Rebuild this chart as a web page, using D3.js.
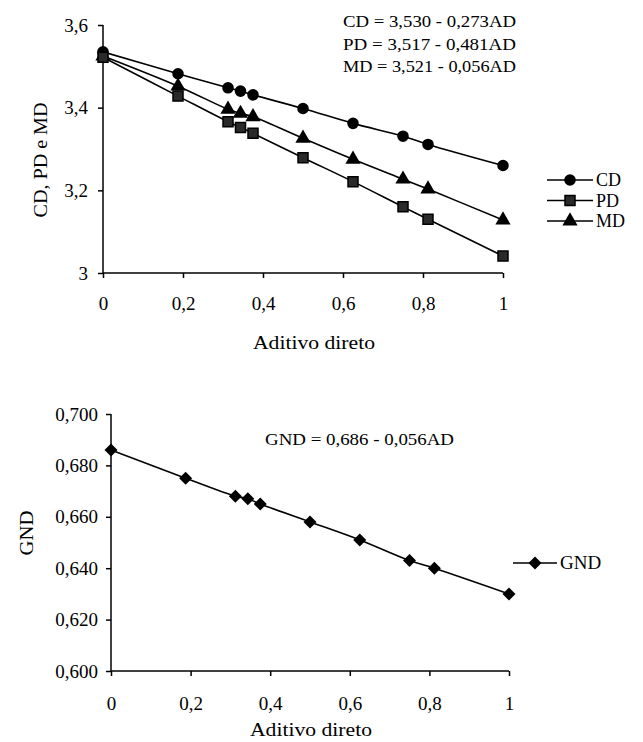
<!DOCTYPE html>
<html>
<head>
<meta charset="utf-8">
<script src="https://cdn.jsdelivr.net/npm/d3@7"></script>
<style>
  body { margin: 0; background: #fff; }
  svg text { font-family: 'Liberation Serif', 'Times New Roman', 'DejaVu Serif', serif; fill: #000; }
</style>
</head>
<body>
<svg width="643" height="742"></svg>
<script>
// additive proportion (x) shared by both charts
const aditivo = [0, 0.1875, 0.3125, 0.34375, 0.375, 0.5, 0.625, 0.75, 0.8125, 1];
const cd = [3.535, 3.482, 3.448, 3.440, 3.431, 3.398, 3.362, 3.331, 3.311, 3.260];
const pd = [3.522, 3.428, 3.366, 3.352, 3.338, 3.279, 3.221, 3.160, 3.130, 3.041];
const md = [3.525, 3.452, 3.396, 3.386, 3.378, 3.326, 3.275, 3.227, 3.203, 3.128];
const gnd = [0.686, 0.675, 0.668, 0.667, 0.665, 0.658, 0.651, 0.643, 0.640, 0.630];

const xTicks = [0, 0.2, 0.4, 0.6, 0.8, 1];
const topYTicks = [3, 3.2, 3.4, 3.6];
const botYTicks = [0.6, 0.62, 0.64, 0.66, 0.68, 0.7];
const topEquations = ['CD = 3,530 - 0,273AD', 'PD = 3,517 - 0,481AD', 'MD = 3,521 - 0,056AD'];
const botEquation = 'GND = 0,686 - 0,056AD';

const svg = d3.select('svg');
const serif = "'Liberation Serif', 'Times New Roman', serif";

const symbols = {
  CD: d3.symbol().type(d3.symbolCircle).size(105),
  PD: d3.symbol().type(d3.symbolSquare).size(100),
  MD: d3.symbol().type(d3.symbolTriangle).size(100),
  GND: d3.symbol().type(d3.symbolSquare).size(85)
};

function drawMarker(g, key, x, y) {
  const p = g.append('path')
    .attr('d', symbols[key]())
    .attr('transform', `translate(${x},${y})` + (key === 'GND' ? ' rotate(45)' : ''))
    .attr('fill', key === 'PD' ? '#2a2a2a' : '#000');
  if (key === 'PD') p.attr('stroke', '#000').attr('stroke-width', 1.5);
}

function drawAxes(x, y, yTicks, yFmt, yPad, xPad) {
  const g = svg.append('g');
  const [x0] = x.range();
  const [y0] = y.range();

  const xa = g.append('g')
    .attr('transform', `translate(0,${y0})`)
    .call(d3.axisBottom(x).tickValues(xTicks).tickSize(5).tickPadding(xPad)
      .tickFormat(d => String(d).replace('.', ',')));
  const ya = g.append('g')
    .attr('transform', `translate(${x0},0)`)
    .call(d3.axisLeft(y).tickValues(yTicks).tickSize(5).tickPadding(yPad).tickFormat(yFmt));

  [xa, ya].forEach(a => {
    a.attr('font-family', serif);
    a.select('.domain').attr('stroke', '#000').attr('stroke-width', 1.5);
    a.selectAll('.tick line').attr('stroke', '#000').attr('stroke-width', 1.5);
    a.selectAll('text').attr('font-size', 19);
  });
  xa.select('.domain').attr('d', `M${x.range()[0]},0H${x.range()[1]}`);
  ya.select('.domain').attr('d', `M0,${y.range()[0]}V${y.range()[1]}`);
  return g;
}

function drawSeries(x, y, values, key) {
  const pts = aditivo.map((a, i) => [x(a), y(values[i])]);
  svg.append('path')
    .attr('d', d3.line().curve(d3.curveCatmullRom.alpha(0.5))(pts))
    .attr('fill', 'none')
    .attr('stroke', '#000')
    .attr('stroke-width', 1.6);
  const g = svg.append('g');
  pts.forEach(p => drawMarker(g, key, p[0], p[1]));
}

function legendRow(key, x, y, label, len, size) {
  svg.append('line')
    .attr('x1', x).attr('x2', x + len).attr('y1', y).attr('y2', y)
    .attr('stroke', '#000').attr('stroke-width', 1.6);
  drawMarker(svg, key, x + len / 2, y);
  svg.append('text')
    .attr('x', x + len + 3).attr('y', y + 6)
    .attr('font-size', size)
    .text(label);
}

function label(x, y, t, size, len, anchor) {
  const el = svg.append('text')
    .attr('x', x).attr('y', y)
    .attr('font-size', size)
    .attr('text-anchor', anchor || 'start')
    .text(t);
  if (len) el.attr('textLength', len).attr('lengthAdjust', 'spacingAndGlyphs');
  return el;
}

// ---- top chart
const xTop = d3.scaleLinear().domain([0, 1]).range([103, 503]);
const yTop = d3.scaleLinear().domain([3, 3.6]).range([273, 25]);
drawAxes(xTop, yTop, topYTicks, d => String(d).replace('.', ','), 10, 19);
drawSeries(xTop, yTop, cd, 'CD');
drawSeries(xTop, yTop, md, 'MD');
drawSeries(xTop, yTop, pd, 'PD');

topEquations.forEach((t, i) => label(343, 27 + i * 22.5, t, 16, 173));

legendRow('CD', 547, 180, 'CD', 46, 18);
legendRow('PD', 547, 200.5, 'PD', 46, 18);
legendRow('MD', 547, 221, 'MD', 46, 18);

label(314, 349, 'Aditivo direto', 19, 122, 'middle');

svg.append('text')
  .attr('transform', 'translate(47,160) rotate(-90)')
  .attr('text-anchor', 'middle')
  .attr('font-size', 19)
  .attr('textLength', 115).attr('lengthAdjust', 'spacingAndGlyphs')
  .text('CD, PD e MD');

// ---- bottom chart
const xBot = d3.scaleLinear().domain([0, 1]).range([111, 509]);
const yBot = d3.scaleLinear().domain([0.6, 0.7]).range([671, 414]);
drawAxes(xBot, yBot, botYTicks, d => d3.format('.3f')(d).replace('.', ','), 8, 21);
drawSeries(xBot, yBot, gnd, 'GND');

label(265, 445, botEquation, 16, 189);

legendRow('GND', 513, 563, 'GND', 44, 19);

label(311, 736, 'Aditivo direto', 18, 122, 'middle');

svg.append('text')
  .attr('transform', 'translate(33,533) rotate(-90)')
  .attr('text-anchor', 'middle')
  .attr('font-size', 19)
  .attr('textLength', 45).attr('lengthAdjust', 'spacingAndGlyphs')
  .text('GND');
</script>
</body>
</html>
